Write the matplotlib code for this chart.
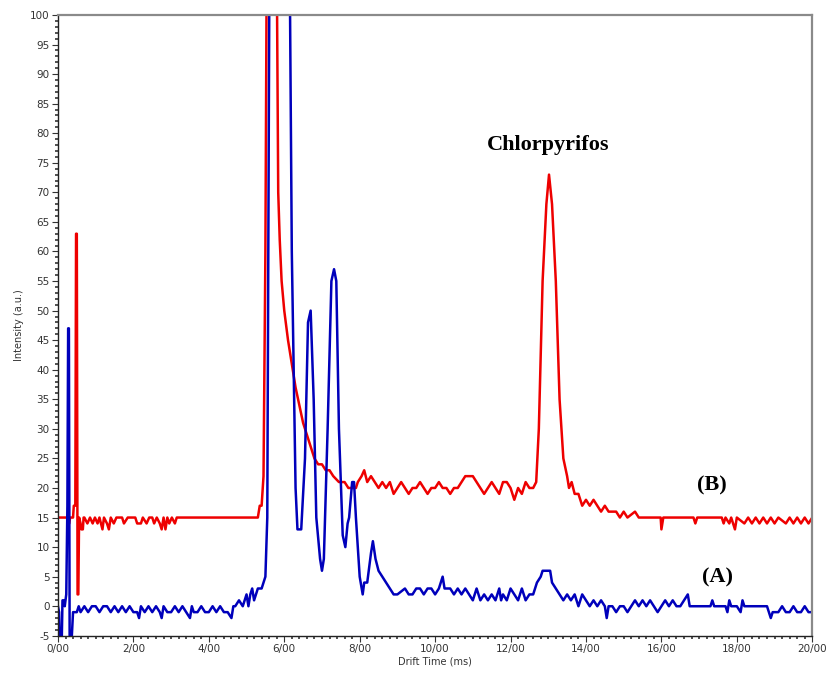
import matplotlib

matplotlib.use("Agg")

import matplotlib.pyplot as plt
from matplotlib.ticker import FuncFormatter, MultipleLocator

plt.rcParams["axes.unicode_minus"] = False

# trace (B), red: (drift time ms, intensity)
red_points = [
    (0.00, 15), (0.25, 15), (0.27, 14), (0.30, 14), (0.32, 15), (0.40, 15), (0.42, 17), (0.46, 17),
    (0.48, 63), (0.50, 63), (0.52, 2), (0.54, 2), (0.56, 15), (0.60, 14), (0.62, 13), (0.66, 13),
    (0.68, 15), (0.70, 15), (0.78, 14), (0.85, 15), (0.92, 14), (0.98, 15), (1.05, 14), (1.10, 15),
    (1.18, 13), (1.22, 15), (1.30, 14), (1.35, 13), (1.40, 15), (1.48, 14), (1.55, 15), (1.70, 15),
    (1.75, 14), (1.85, 15), (2.05, 15), (2.10, 14), (2.20, 14), (2.25, 15), (2.35, 14), (2.42, 15),
    (2.50, 15), (2.55, 14), (2.62, 15), (2.70, 14), (2.75, 13), (2.80, 15), (2.85, 13), (2.90, 15),
    (2.95, 14), (3.02, 15), (3.10, 14), (3.15, 15), (5.30, 15), (5.35, 17), (5.40, 17), (5.45, 22),
    (5.50, 60), (5.55, 130), (5.78, 130), (5.84, 70), (5.88, 62), (5.93, 55), (6.00, 50), (6.10, 45),
    (6.20, 41), (6.30, 37), (6.40, 34), (6.50, 31), (6.60, 29), (6.70, 27), (6.80, 25), (6.90, 24),
    (7.00, 24), (7.10, 23), (7.20, 23), (7.30, 22), (7.45, 21), (7.60, 21), (7.70, 20), (7.90, 20),
    (7.95, 21), (8.05, 22), (8.12, 23), (8.20, 21), (8.30, 22), (8.40, 21), (8.50, 20), (8.60, 21),
    (8.70, 20), (8.80, 21), (8.90, 19), (9.00, 20), (9.10, 21), (9.20, 20), (9.30, 19), (9.40, 20),
    (9.50, 20), (9.60, 21), (9.70, 20), (9.80, 19), (9.90, 20), (10.00, 20), (10.10, 21), (10.20, 20),
    (10.30, 20), (10.40, 19), (10.50, 20), (10.60, 20), (10.70, 21), (10.80, 22), (10.90, 22),
    (11.00, 22), (11.10, 21), (11.20, 20), (11.30, 19), (11.40, 20), (11.50, 21), (11.60, 20),
    (11.70, 19), (11.80, 21), (11.90, 21), (12.00, 20), (12.10, 18), (12.20, 20), (12.30, 19),
    (12.40, 21), (12.50, 20), (12.60, 20), (12.68, 21), (12.75, 30), (12.85, 55), (12.95, 68),
    (13.02, 73), (13.10, 68), (13.20, 55), (13.30, 35), (13.40, 25), (13.50, 22), (13.55, 20),
    (13.62, 21), (13.70, 19), (13.80, 19), (13.90, 17), (14.00, 18), (14.10, 17), (14.20, 18),
    (14.30, 17), (14.40, 16), (14.50, 17), (14.60, 16), (14.70, 16), (14.80, 16), (14.90, 15),
    (15.00, 16), (15.10, 15), (15.30, 16), (15.40, 15), (15.50, 15), (15.98, 15), (16.00, 13),
    (16.05, 15), (16.85, 15), (16.90, 14), (16.95, 15), (17.60, 15), (17.65, 14), (17.70, 15),
    (17.80, 14), (17.85, 15), (17.95, 13), (18.00, 15), (18.20, 14), (18.30, 15), (18.40, 14),
    (18.50, 15), (18.60, 14), (18.70, 15), (18.80, 14), (18.90, 15), (19.00, 14), (19.10, 15),
    (19.30, 14), (19.40, 15), (19.50, 14), (19.60, 15), (19.70, 14), (19.80, 15), (19.90, 14),
    (20.00, 15),
]

# trace (A), blue
blue_points = [
    (0.00, 0), (0.03, -1), (0.05, -6), (0.10, -6), (0.12, 1), (0.16, 1), (0.18, 0), (0.22, 2),
    (0.25, 17), (0.27, 47), (0.29, 47), (0.31, -6), (0.36, -6), (0.40, -1), (0.45, -1), (0.50, -1),
    (0.55, 0), (0.60, -1), (0.70, 0), (0.80, -1), (0.90, 0), (1.00, 0), (1.10, -1), (1.20, 0),
    (1.30, 0), (1.40, -1), (1.50, 0), (1.60, -1), (1.70, 0), (1.80, -1), (1.90, 0), (2.00, -1),
    (2.10, -1), (2.15, -2), (2.20, 0), (2.30, -1), (2.40, 0), (2.50, -1), (2.60, 0), (2.70, -1),
    (2.75, -2), (2.80, 0), (2.90, -1), (3.00, -1), (3.10, 0), (3.20, -1), (3.30, 0), (3.40, -1),
    (3.50, -2), (3.55, 0), (3.60, -1), (3.70, -1), (3.80, 0), (3.90, -1), (4.00, -1), (4.10, 0),
    (4.20, -1), (4.30, 0), (4.40, -1), (4.50, -1), (4.60, -2), (4.65, 0), (4.70, 0), (4.80, 1),
    (4.90, 0), (5.00, 2), (5.05, 0), (5.10, 2), (5.15, 3), (5.20, 1), (5.30, 3), (5.40, 3),
    (5.50, 5), (5.55, 15), (5.62, 130), (6.12, 130), (6.20, 60), (6.30, 20), (6.35, 13), (6.45, 13),
    (6.55, 25), (6.63, 48), (6.70, 50), (6.78, 35), (6.85, 15), (6.95, 8), (7.00, 6), (7.05, 8),
    (7.15, 30), (7.25, 55), (7.32, 57), (7.38, 55), (7.45, 30), (7.55, 12), (7.62, 10), (7.68, 14),
    (7.72, 15), (7.80, 21), (7.85, 21), (7.90, 15), (8.00, 5), (8.08, 2), (8.12, 4), (8.20, 4),
    (8.30, 9), (8.35, 11), (8.42, 8), (8.50, 6), (8.60, 5), (8.70, 4), (8.80, 3), (8.90, 2),
    (9.00, 2), (9.20, 3), (9.30, 2), (9.40, 2), (9.50, 3), (9.60, 3), (9.70, 2), (9.80, 3),
    (9.90, 3), (10.00, 2), (10.10, 3), (10.20, 5), (10.25, 3), (10.40, 3), (10.50, 2), (10.60, 3),
    (10.70, 2), (10.80, 3), (10.90, 2), (11.00, 1), (11.10, 3), (11.20, 1), (11.30, 2), (11.40, 1),
    (11.50, 2), (11.60, 1), (11.70, 3), (11.75, 1), (11.80, 2), (11.90, 1), (12.00, 3), (12.10, 2),
    (12.20, 1), (12.30, 3), (12.40, 1), (12.50, 2), (12.60, 2), (12.70, 4), (12.80, 5), (12.85, 6),
    (13.05, 6), (13.10, 4), (13.20, 3), (13.30, 2), (13.40, 1), (13.50, 2), (13.60, 1), (13.70, 2),
    (13.80, 0), (13.90, 2), (14.00, 1), (14.10, 0), (14.20, 1), (14.30, 0), (14.40, 1), (14.50, 0),
    (14.55, -2), (14.60, 0), (14.70, 0), (14.80, -1), (14.90, 0), (15.00, 0), (15.10, -1), (15.20, 0),
    (15.30, 1), (15.40, 0), (15.50, 1), (15.60, 0), (15.70, 1), (15.80, 0), (15.90, -1), (16.00, 0),
    (16.10, 1), (16.20, 0), (16.30, 1), (16.40, 0), (16.50, 0), (16.60, 1), (16.70, 2), (16.75, 0),
    (16.80, 0), (17.00, 0), (17.30, 0), (17.35, 1), (17.40, 0), (17.70, 0), (17.75, -1), (17.80, 1),
    (17.85, 0), (18.00, 0), (18.10, -1), (18.15, 1), (18.20, 0), (18.80, 0), (18.85, -1), (18.90, -2),
    (18.95, -1), (19.00, -1), (19.10, -1), (19.20, 0), (19.30, -1), (19.40, -1), (19.50, 0),
    (19.60, -1), (19.70, -1), (19.80, 0), (19.90, -1), (20.00, -1),
]

x_ticks = list(range(0, 21, 2))
y_ticks = list(range(-5, 101, 5))

red_t, red_v = zip(*red_points)
blue_t, blue_v = zip(*blue_points)

fig = plt.figure(figsize=(8.28, 6.8), dpi=100)
ax = fig.add_axes([0.070, 0.065, 0.911, 0.913])

ax.plot(red_t, red_v, color="#ee0000", lw=1.8, solid_joinstyle="round")
ax.plot(blue_t, blue_v, color="#0000bb", lw=1.8, solid_joinstyle="round")

ax.set_xlim(0, 20)
ax.set_ylim(-5, 100)
ax.set_xticks(x_ticks)
ax.set_yticks(y_ticks)
ax.xaxis.set_major_formatter(FuncFormatter(lambda v, _p: f"{int(round(v))}/00"))
ax.xaxis.set_minor_locator(MultipleLocator(0.2))
ax.yaxis.set_minor_locator(MultipleLocator(1))

ax.tick_params(axis="both", which="major", direction="out", length=4, width=0.8,
               labelsize=7.5, labelcolor="#333333", color="#333333", pad=2)
ax.tick_params(axis="both", which="minor", direction="out", length=2, width=1.2,
               color="#333333")

for side in ("left", "bottom"):
    ax.spines[side].set_color("#222222")
    ax.spines[side].set_linewidth(1.0)
for side in ("top", "right"):
    ax.spines[side].set_color("#8a8a8a")
    ax.spines[side].set_linewidth(1.6)

ax.set_xlabel("Drift Time (ms)", fontsize=7, color="#333333", labelpad=2)
ax.set_ylabel("Intensity (a.u.)", fontsize=7, color="#333333", labelpad=4)

serif = ["Liberation Serif", "DejaVu Serif"]
ax.text(13.0, 78, "Chlorpyrifos", family=serif, fontsize=16, fontweight="bold",
        ha="center", va="center")
ax.text(17.35, 20.5, "(B)", family=serif, fontsize=16, fontweight="bold",
        ha="center", va="center")
ax.text(17.5, 4.8, "(A)", family=serif, fontsize=16, fontweight="bold",
        ha="center", va="center")

fig.savefig("out.png", dpi=100)
